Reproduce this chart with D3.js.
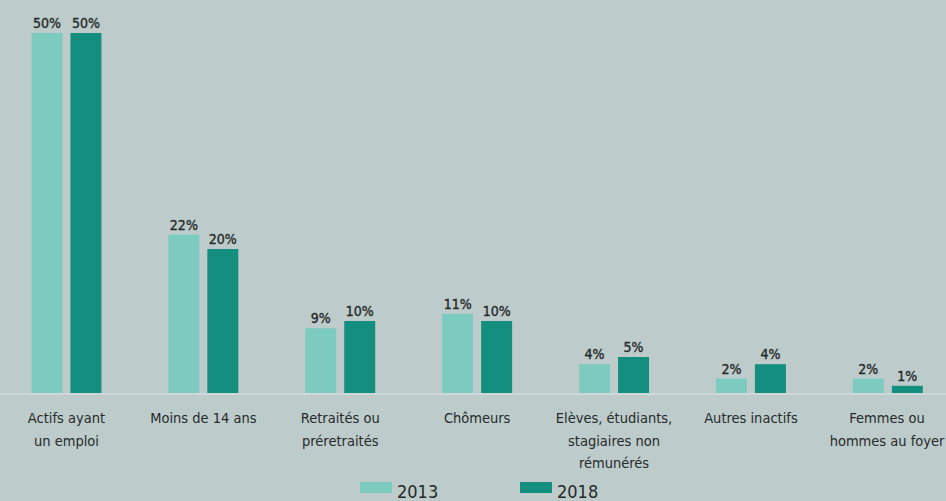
<!DOCTYPE html>
<html>
<head>
<meta charset="utf-8">
<script src="https://cdn.jsdelivr.net/npm/d3@7"></script>
<style>
  html, body { margin: 0; padding: 0; background: #bdcccb; overflow: hidden; }
  svg { display: block; }
  text { font-family: "DejaVu Sans Condensed", "Liberation Sans Narrow", "Roboto", sans-serif; fill: #262a2a; }
</style>
</head>
<body>
<svg id="chart" width="946" height="501"></svg>
<script>
// Répartition de la population par statut d'activité, 2013 et 2018 (%)
const categories = [
  ["Actifs ayant", "un emploi"],
  ["Moins de 14 ans"],
  ["Retraités ou", "préretraités"],
  ["Chômeurs"],
  ["Elèves, étudiants,", "stagiaires non", "rémunérés"],
  ["Autres inactifs"],
  ["Femmes ou", "hommes au foyer"]
];
const years = ["2013", "2018"];
const values2013 = [50, 22, 9, 11, 4, 2, 2];
const values2018 = [50, 20, 10, 10, 5, 4, 1];
const colors = ["#7dcbbf", "#148e7f"];

const W = 946, H = 501;
const baseY = 393;
const svg = d3.select("#chart");

const ids = categories.map((c, i) => i);
const x0 = d3.scaleBand().domain(ids).range([-2, 956.3]).paddingInner(0.489).paddingOuter(0.2445);
const x1 = d3.scaleBand().domain(years).range([0, x0.bandwidth()]).paddingInner(8 / 39);
const y = d3.scaleLinear().domain([0, 50]).range([baseY, 33]);
const color = d3.scaleOrdinal().domain(years).range(colors);

const rows = ids.map(i => ({ i, vals: [ { year: "2013", v: values2013[i] }, { year: "2018", v: values2018[i] } ] }));

// baseline
svg.append("line")
  .attr("x1", 0).attr("x2", W)
  .attr("y1", baseY + 1).attr("y2", baseY + 1)
  .attr("stroke", "#d2dedd").attr("stroke-width", 1.5);

const g = svg.append("g").selectAll("g").data(rows).join("g")
  .attr("transform", d => `translate(${x0(d.i)},0)`);

g.selectAll("rect").data(d => d.vals).join("rect")
  .attr("x", d => x1(d.year))
  .attr("y", d => y(d.v))
  .attr("width", x1.bandwidth())
  .attr("height", d => baseY - y(d.v))
  .attr("fill", d => color(d.year));

g.selectAll("text.val").data(d => d.vals).join("text")
  .attr("class", "val")
  .attr("x", d => x1(d.year) + x1.bandwidth() / 2)
  .attr("y", d => y(d.v) - 5)
  .attr("text-anchor", "middle")
  .attr("font-size", 14)
  .attr("stroke", "#262a2a")
  .attr("stroke-width", 0.35)
  .text(d => d.v + "%");

// category labels
const labels = svg.append("g").selectAll("text").data(rows).join("text")
  .attr("x", d => x0(d.i) + x0.bandwidth() / 2)
  .attr("y", 423)
  .attr("text-anchor", "middle")
  .attr("font-size", 14.5);
labels.selectAll("tspan").data(d => categories[d.i]).join("tspan")
  .attr("x", function() { return this.parentNode.getAttribute("x"); })
  .attr("dy", (d, k) => k === 0 ? 0 : 22.5)
  .text(d => d);

// keep the last label inside the right edge
labels.each(function() {
  const b = this.getBBox();
  const over = b.x + b.width - (W - 1);
  if (over > 0) {
    const nx = +this.getAttribute("x") - over;
    d3.select(this).attr("x", nx).selectAll("tspan").attr("x", nx);
  }
});

// legend
const legendX = [360, 520];
const legend = svg.append("g").selectAll("g").data(years).join("g")
  .attr("transform", (d, k) => `translate(${legendX[k]},482)`);
legend.append("rect").attr("width", 32).attr("height", 11).attr("fill", d => color(d));
legend.append("text").attr("x", 37).attr("y", 16).attr("font-size", 18).text(d => d);
</script>
</body>
</html>
